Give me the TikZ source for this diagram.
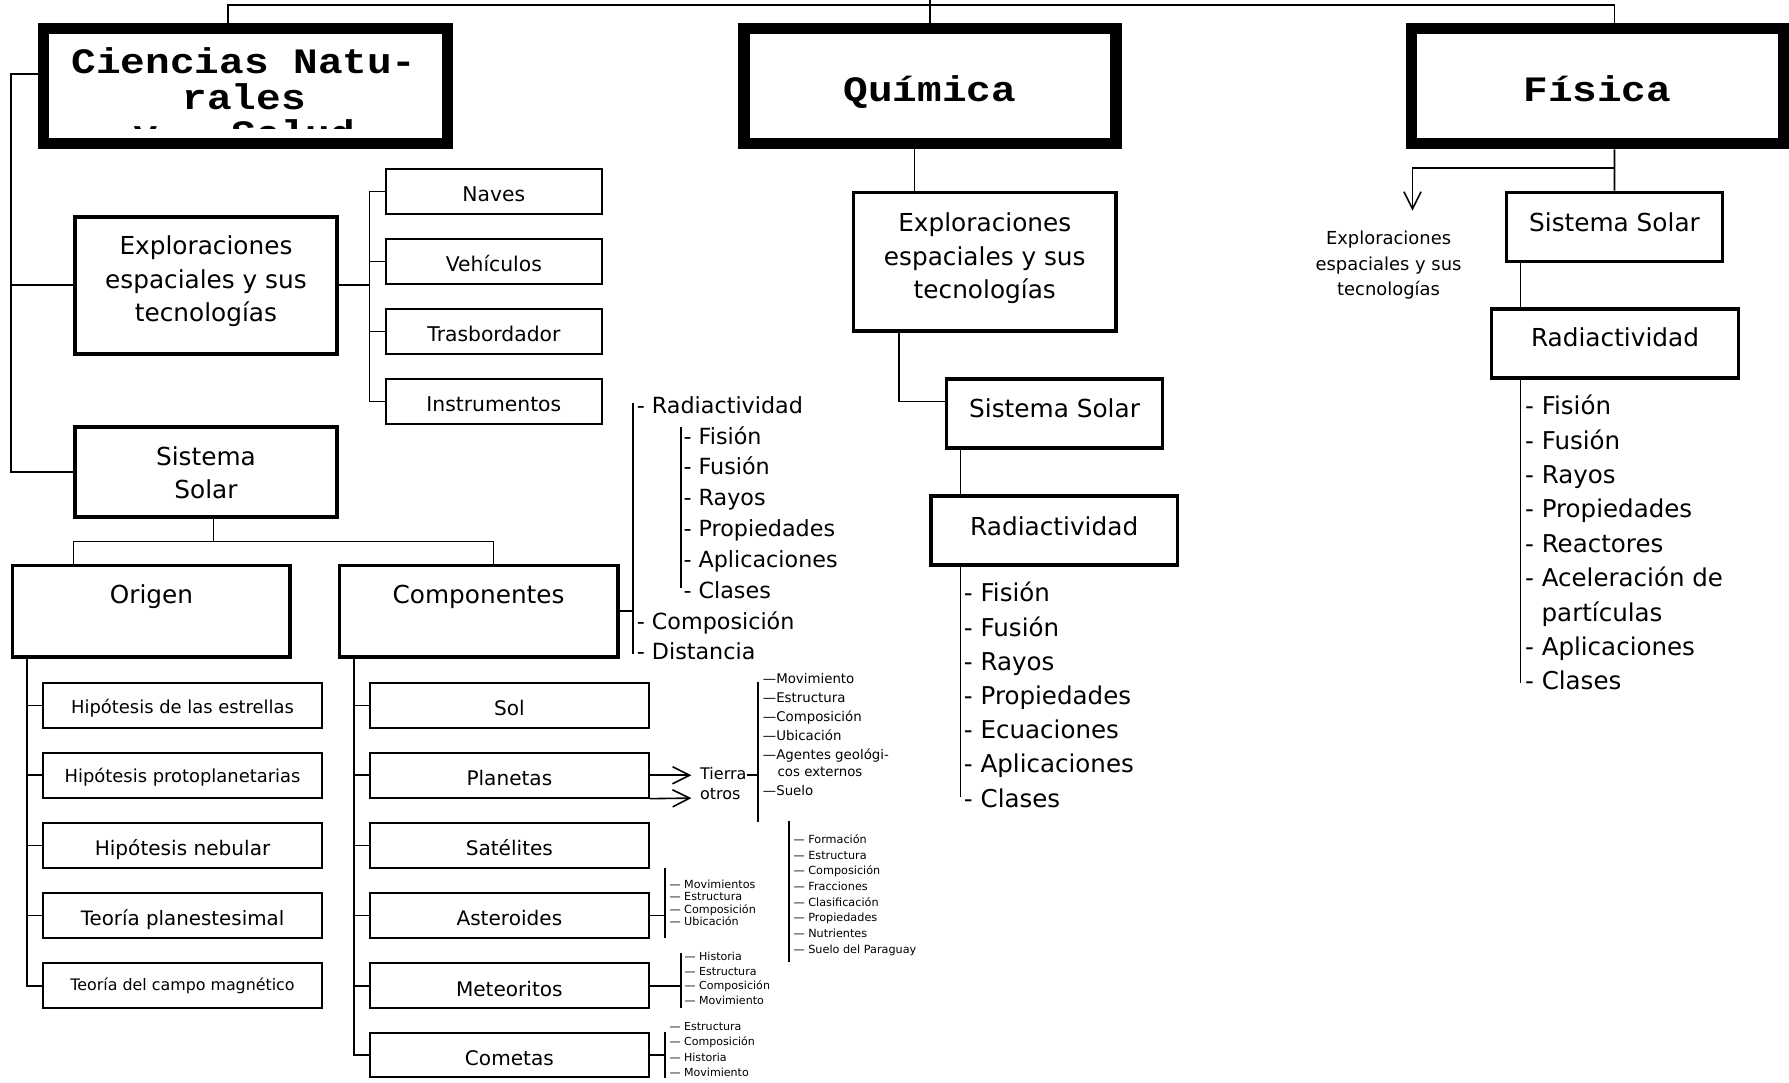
\documentclass[tikz,border=0pt]{standalone}
\usepackage{fontspec}
\setmainfont{DejaVu Sans}
\newfontfamily\titlefont{Liberation Mono}[FakeStretch=1.15]
\usetikzlibrary{arrows.meta}
\newcommand\myfs[2]{\fontsize{#1}{#2}\selectfont}
\newcommand\mlines[1]{\vtop{\lineskiplimit=-1000pt\lineskip=0pt\halign{\hfil##\hfil\cr#1\crcr}}}
\begin{document}
\begin{tikzpicture}[x=1pt,y=-1pt,
  conn/.style={line width=1.4pt},
  brk/.style={line width=1.5pt},
  arrowV/.style={-{Straight Barb[length=15pt,width=15pt]}},
  titlebox/.style={draw,line width=10pt,inner sep=0pt,minimum height=101pt,font=\titlefont\bfseries\myfs{31.3}{31.4}},
  midbox/.style={draw,line width=3.2pt,inner sep=0pt,font=\myfs{21.7}{29.3}},
  navebox/.style={draw,line width=1.8pt,inner sep=0pt,minimum width=189.5pt,minimum height=39.2pt,font=\myfs{17.8}{20},tdn=17.5pt},
  hbox/.style={draw,line width=1.8pt,inner sep=0pt,minimum width=244.2pt,minimum height=39.2pt},
  tdn/.style={text height=#1,text depth=0pt},
  tup/.style={text height=0pt,text depth=#1},
  item/.style={anchor=base west,inner sep=0pt},
]
\useasboundingbox (0,0) rectangle (1568,949);
\fill[white] (0,0) rectangle (1568,949);

% ---------- title boxes ----------
\node[titlebox,minimum width=354pt] (ciencias) at (215,75.5) {};
\begin{scope}
  \clip (43,30) rectangle (387,112.5);
  \node[anchor=base,inner sep=0pt,font=\titlefont\bfseries\myfs{31.3}{31.4}] (cienciasTxt) at (214,64.3)
    {\mlines{Ciencias Natu-\cr rales\cr y\ \ \ Salud}};
\end{scope}
\node[titlebox,minimum width=326pt,tdn=27.2pt] (quimica) at (815,75.5) {Química};
\node[titlebox,minimum width=326pt,tdn=27.2pt] (fisica) at (1400,75.5) {Física};

\draw[conn] ([xshift=-15pt]ciencias.north) -- ++(0,-15.6) -| ([xshift=15pt]fisica.north);
\coordinate (topEdge) at (815,0);
\draw[conn] (quimica.north) -- (topEdge);

% ---------- left column ----------
\node[midbox,minimum width=229.8pt,minimum height=120.1pt,tup=53pt] (explL) at (180.5,250)
  {\mlines{Exploraciones\cr espaciales y sus\cr tecnologías}};
\node[midbox,minimum width=229.8pt,minimum height=79.3pt,tup=12.3pt] (sisL) at (180.5,413.75)
  {\mlines{Sistema\cr Solar}};

\coordinate (lspine) at (9.4,65);
\draw[conn] ([yshift=10.5pt]ciencias.west) -- (lspine) |- (sisL.west);
\draw[conn] (explL.west) -- (explL.west -| lspine);

\node[navebox] (naves) at (432.85,168) {Naves};
\node[navebox] (vehic) at (432.85,229.35) {Vehículos};
\node[navebox] (trasb) at (432.85,290.7) {Trasbordador};
\node[navebox] (instr) at (432.85,352.05) {Instrumentos};

\coordinate (nvspine) at (324,168);
\draw[conn] (explL.east) -- (explL.east -| nvspine);
\draw[conn] (naves.west) -- (nvspine) |- (instr.west);
\draw[conn] (vehic.west) -- (vehic.west -| nvspine);
\draw[conn] (trasb.west) -- (trasb.west -| nvspine);

\node[midbox,minimum width=243.3pt,minimum height=80.3pt,tup=13.5pt] (origen) at (132.75,535.75) {Origen};
\node[midbox,minimum width=243.8pt,minimum height=80.3pt,tup=13.5pt] (comp) at (419.5,535.75) {Componentes};

\coordinate (ssbar) at (187,474.7);
\draw[conn] (sisL.south -| ssbar) -- (ssbar);
\draw[conn] ([xshift=-68.2pt]origen.north) |- (ssbar) -| ([xshift=13pt]comp.north);

% origin hypotheses
\node[hbox,font=\myfs{15.7}{18},tdn=13.6pt] (h1) at (160,618.2) {Hipótesis de las estrellas};
\node[hbox,font=\myfs{15.7}{18},tdn=12.6pt] (h2) at (160,679.5) {Hipótesis protoplanetarias};
\node[hbox,font=\myfs{17.6}{20},tdn=17pt] (h3) at (160,741.1) {Hipótesis nebular};
\node[hbox,font=\myfs{17.4}{20},tdn=17pt] (h4) at (160,802.5) {Teoría planestesimal};
\node[hbox,font=\myfs{13.9}{16},tdn=8pt] (h5) at (160,864) {Teoría del campo magnético};
\coordinate (ospine) at (23.6,577.5);
\draw[conn] (origen.south -| ospine) |- (h5.west);
\foreach \n in {h1,h2,h3,h4} \draw[conn] (\n.west) -- (\n.west -| ospine);

% components
\node[hbox,font=\myfs{17.6}{20},tdn=18pt] (sol) at (446.45,618.2) {Sol};
\node[hbox,font=\myfs{17.6}{20},tdn=18pt] (planetas) at (446.45,679.5) {Planetas};
\node[hbox,font=\myfs{17.6}{20},tdn=18pt] (satelites) at (446.45,741.1) {Satélites};
\node[hbox,font=\myfs{17.6}{20},tdn=18pt] (asteroides) at (446.45,802.5) {Asteroides};
\node[hbox,font=\myfs{17.6}{20},tdn=18pt] (meteoritos) at (446.45,864) {Meteoritos};
\node[hbox,font=\myfs{17.6}{20},tdn=18pt] (cometas) at (446.45,924.6) {Cometas};
\coordinate (cspine) at (310.2,577.5);
\draw[conn] (comp.south -| cspine) |- (cometas.west);
\foreach \n in {sol,planetas,satelites,asteroides,meteoritos} \draw[conn] (\n.west) -- (\n.west -| cspine);

% components bracket list
\coordinate (cbTop) at (555,353);
\coordinate (cbBot) at (555,573);
\draw[conn] (comp.east) -- (comp.east -| cbTop);
\draw[conn] (cbTop) -- (cbBot);
\node[item,font=\myfs{19.5}{27}] (cRad) at (558,362.3) {- Radiactividad};
\foreach \t [count=\i] in {Fisión,Fusión,Rayos,Propiedades,Aplicaciones,Clases}
  \node[item,font=\myfs{19.5}{27}] (cs\i) at (598.9,{362.3+27*\i}) {- \t};
\node[item,font=\myfs{19.5}{27}] (cComp) at (558,551.3) {- Composición};
\node[item,font=\myfs{19.5}{27}] (cDist) at (558,578.3) {- Distancia};
\coordinate (csTop) at (596.9,374);
\coordinate (csBot) at (596.9,515.6);
\draw[line width=1.2pt] (csTop) -- (csBot);

% planets arrows
\coordinate (tipA) at (606,679.5);
\coordinate (tipB) at (606,699.5);
\draw[conn,arrowV] (planetas.east) -- (tipA);
\draw[conn,arrowV] (planetas.south east) -- (tipB);
\node[item,font=\myfs{14}{16}] (tierra) at (613.5,683.6) {Tierra};
\node[item,font=\myfs{14}{16}] (otros) at (613.5,700.9) {otros};
\coordinate (tbx) at (664.6,679.3);
\draw[conn] (tierra.east |- tbx) -- (tbx);
\coordinate (tTop) at (664.6,597.5);
\coordinate (tBot) at (664.6,720.2);
\draw[brk] (tTop) -- (tBot);
\node[item,font=\myfs{11.7}{14}] (t1) at (668.5,599.5) {—Movimiento};
\node[item,font=\myfs{11.7}{14}] (t2) at (668.5,615.9) {—Estructura};
\node[item,font=\myfs{11.7}{14}] (t3) at (668.5,632.5) {—Composición};
\node[item,font=\myfs{11.7}{14}] (t4) at (668.5,648.6) {—Ubicación};
\node[item,font=\myfs{11.7}{14}] (t5) at (668.5,665.5) {—Agentes geológi-};
\node[item,font=\myfs{11.7}{14}] (t5b) at (681.3,680.7) {cos externos};
\node[item,font=\myfs{11.7}{14}] (t6) at (668.5,696.8) {—Suelo};

% soil list
\coordinate (sTop) at (691.8,720);
\coordinate (sBot) at (691.8,843);
\draw[brk] (sTop) -- (sBot);
\foreach \t [count=\i] in {Formación,Estructura,Composición,Fracciones,Clasificación,Propiedades,Nutrientes,Suelo del Paraguay}
  \node[item,font=\myfs{9.85}{12}] (sl\i) at (695.3,{725.43+13.77*\i}) {— \t};

% asteroid list
\coordinate (aTop) at (582.9,761);
\coordinate (aBot) at (582.9,822.4);
\draw[conn] (asteroides.east) -- (asteroides.east -| aTop);
\draw[brk] (aTop) -- (aBot);
\foreach \t [count=\i] in {Movimientos,Estructura,Composición,Ubicación}
  \node[item,font=\myfs{9.8}{11}] (al\i) at (586.6,{767.6+11*\i}) {— \t};

% meteorite list
\coordinate (mTop) at (596.6,835.6);
\coordinate (mBot) at (596.6,883.8);
\draw[conn] (meteoritos.east) -- (meteoritos.east -| mTop);
\draw[brk] (mTop) -- (mBot);
\foreach \t [count=\i] in {Historia,Estructura,Composición,Movimiento}
  \node[item,font=\myfs{9.7}{12}] (ml\i) at (599.8,{828.3+13.13*\i}) {— \t};

% comet list
\coordinate (kTop) at (582.9,904.2);
\coordinate (kBot) at (582.9,945);
\draw[conn] (cometas.east) -- (cometas.east -| kTop);
\draw[brk] (kTop) -- (kBot);
\foreach \t [count=\i] in {Estructura,Composición,Historia,Movimiento}
  \node[item,font=\myfs{9.7}{12}] (kl\i) at (586.6,{889.2+13.63*\i}) {— \t};

% ---------- Quimica column ----------
\node[midbox,minimum width=230pt,minimum height=121.4pt,tup=52.6pt] (explQ) at (863.1,229.3)
  {\mlines{Exploraciones\cr espaciales y sus\cr tecnologías}};
\node[midbox,minimum width=189.4pt,minimum height=60.5pt,tdn=6.5pt] (sisQ) at (924.3,362.55) {Sistema Solar};
\node[midbox,minimum width=216.1pt,minimum height=60.5pt,tdn=8.3pt] (radQ) at (923.95,464.85) {Radiactividad};
\coordinate (qA) at (801.6,0);
\draw[conn] (quimica.south -| qA) -- (explQ.north -| qA);
\coordinate (qB) at (788,352);
\draw[conn] (explQ.south -| qB) -- (qB) -- (qB -| sisQ.west);
\coordinate (qC) at (842,0);
\draw[conn] (sisQ.south -| qC) -- (radQ.north -| qC);
\coordinate (qEnd) at (842,698.3);
\draw[conn] (radQ.south -| qEnd) -- (qEnd);
\foreach \t [count=\i] in {Fisión,Fusión,Rayos,Propiedades,Ecuaciones,Aplicaciones,Clases}
  \node[item,font=\myfs{21.5}{30}] (qi\i) at (844.7,{497.5+30*\i}) {- \t};

% ---------- Fisica column ----------
\node[midbox,minimum width=189.5pt,minimum height=60.6pt,tdn=7.2pt] (sisF) at (1415.05,198.9) {Sistema Solar};
\node[midbox,minimum width=216.7pt,minimum height=60.4pt,tdn=5.2pt] (radF) at (1415.45,301.2) {Radiactividad};
\node[anchor=base,inner sep=0pt,font=\myfs{15.7}{21.95}] (explF) at (1217,214.7)
  {\mlines{Exploraciones\cr espaciales y sus\cr tecnologías}};
\draw[conn] ([xshift=15pt]fisica.south) -- (sisF.north);
\coordinate (fbr) at (1415,147.5);
\coordinate (exTip) at (1238,184.6);
\draw[conn,arrowV] (fbr) -| (exTip);
\coordinate (fL) at (1332.8,0);
\coordinate (fEnd) at (1332.8,599);
\draw[conn] (sisF.south -| fL) -- (radF.north -| fL);
\draw[conn] (radF.south -| fEnd) -- (fEnd);
\foreach \t [count=\i] in {Fisión,Fusión,Rayos,Propiedades,Reactores,Aceleración de}
  \node[item,font=\myfs{21.5}{30}] (fi\i) at (1336.5,{333.6+30.1*\i}) {- \t};
\node[item,font=\myfs{21.5}{30}] (fi6b) at (1351,544.3) {partículas};
\node[item,font=\myfs{21.5}{30}] (fi7) at (1336.5,574.4) {- Aplicaciones};
\node[item,font=\myfs{21.5}{30}] (fi8) at (1336.5,604.5) {- Clases};
\end{tikzpicture}
\end{document}
